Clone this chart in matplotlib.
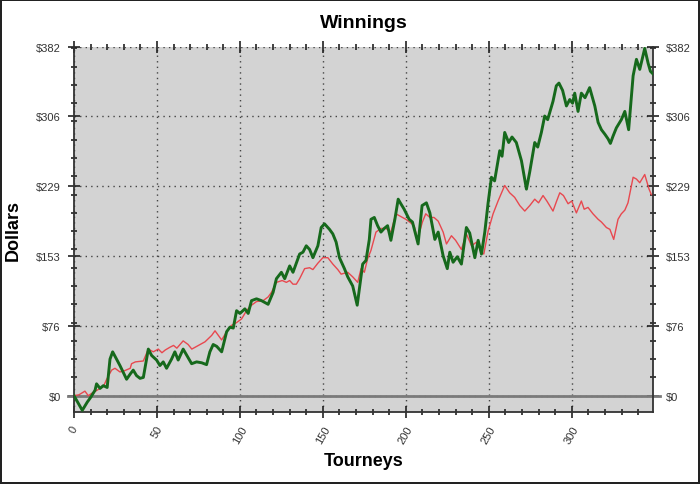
import numpy as np
import matplotlib
matplotlib.use("Agg")
import matplotlib.pyplot as plt

plt.rcParams['font.family'] = ['Liberation Sans', 'DejaVu Sans']

# tourney number / dollars
green_t = [0, 5, 8, 10, 12.7, 13.6, 15.7, 17.7, 20, 21.7, 23.3, 27.7, 31.7, 34, 35.7, 37.7, 39.8, 41.8,
           44.8, 46.8, 49.8, 51.8, 53.8, 55.8, 58.8, 60.8, 62.8, 65.8, 68, 70.9, 73.9, 77, 79.9, 81.9,
           83.9, 86, 89, 92, 94, 96, 98, 100, 103, 105, 107, 110, 113, 117, 120, 122, 125, 127, 130,
           132, 136, 138, 140, 142, 144, 147, 149, 151, 154, 156, 158, 160, 163, 165, 168, 170.7, 172,
           174, 176, 178, 179, 181, 183, 185, 187, 189, 191, 193.4, 195.4, 197, 199, 202, 204, 207.4,
           209.8, 212.4, 214.5, 217.5, 219.5, 222.5, 225, 226.5, 228.5, 231, 233.5, 236.5, 238.5,
           241.6, 243.6, 245.6, 247.6, 249.6, 251.6, 253.5, 256.6, 258, 259.6, 262, 264, 266.6, 269.7,
           272.7, 274.7, 277.7, 279.5, 281.7, 283.7, 285.5, 288.7, 290.7, 292.3, 294.5, 296.8, 298.8,
           300.5, 301.8, 303.8, 305.8, 308, 310.8, 313.9, 315.9, 317.9, 320, 321.9, 323.3, 324.9,
           326.9, 329.9, 332, 334.3, 337, 339, 341, 344, 346, 347.4, 349]
green_v = [0, -16, -7, -2, 6, 13, 8, 11, 9, 40, 48, 33, 18, 24, 28, 22, 19, 20,
           51, 44, 39, 33, 37, 30, 40, 48, 39, 51, 44, 35, 37, 36, 34, 48,
           56, 54, 48, 70, 75, 74, 93, 90, 95, 90, 104, 106, 104, 100, 113, 128, 135, 128, 142,
           135, 155, 157, 164, 160, 151, 164, 184, 188, 182, 177, 168, 151, 139, 130, 120, 99, 117,
           144, 148, 171, 193, 195, 186, 179, 183, 186, 170, 193, 215, 210, 204, 193, 190, 166,
           208, 211, 200, 171, 179, 153, 139, 157, 146, 152, 144, 184, 178,
           151, 170, 155, 179, 211, 239, 235, 268, 262, 288, 277, 283, 277, 257,
           226, 245, 277, 272, 288, 306, 302, 322, 339, 342, 334, 317, 324,
           320, 331, 311, 331, 326, 337, 317, 299, 291, 286, 281, 276, 284,
           293, 302, 311, 291, 350, 368, 357, 380, 364, 355, 352]

red_t = [0, 3, 6.6, 8.6, 11, 13, 15.7, 17.7, 19.7, 22.7, 24.7, 27.7, 30, 33.9, 34.7, 37, 41.8, 44.8,
         47.8, 50.8, 53, 55, 57.8, 60, 62, 65.8, 68.8, 71, 75, 79, 83, 85, 87, 89, 92, 95, 98, 101,
         104, 107, 110, 114, 117, 119, 122, 125.5, 128, 130, 132, 134, 136, 139, 142, 144, 147, 150,
         153, 156, 159, 161, 163, 165, 168, 171, 173, 175, 177, 179, 182, 185, 188, 191, 194, 197,
         200, 203, 205, 207, 210, 212, 214.5, 217, 219.5, 222.5, 224.5, 227.5, 230, 233.5, 236.5,
         239.6, 242.6, 245.6, 247, 249.6, 252.6, 255.6, 259.6, 262.6, 265.6, 268.7, 271.7, 274.7,
         277.7, 280, 282.7, 285, 288.7, 290.7, 292.8, 295, 297.8, 300, 302.8, 305.8, 307.5, 309.8,
         312.8, 315.9, 317.9, 320.9, 323, 325.3, 327.9, 329.9, 332, 333.9, 337, 339, 341, 344,
         346.6, 348]
red_v = [0, 1, 5, 0, 3, 5, 8, 10, 18, 28, 30, 26, 27, 30, 35, 37, 38, 51,
         48, 51, 47, 50, 53, 55, 52, 60, 56, 51, 55, 59, 66, 71, 66, 61, 70, 77, 80, 84,
         93, 99, 103, 104, 108, 113, 124, 126, 124, 126, 122, 122, 128, 139, 140, 138, 145, 151,
         151, 144, 138, 133, 134, 135, 130, 124, 139, 135, 150, 159, 179, 183, 183, 179, 199, 196,
         193, 189, 186, 171, 190, 199, 195, 195, 191, 179, 166, 175, 170, 160, 177,
         164, 168, 157, 155, 180, 199, 213, 230, 222, 217, 208, 202, 208,
         215, 211, 219, 213, 202, 212, 222, 219, 210, 213, 200, 213, 204, 206,
         199, 193, 190, 184, 182, 171, 193, 199, 203, 211, 239, 237, 233, 242,
         226, 220]

ytick_vals = [0, 76.4, 152.8, 229.2, 305.6, 382]
ytick_labels = ['$0', '$76', '$153', '$229', '$306', '$382']
xtick_vals = [0, 50, 100, 150, 200, 250, 300]

fig = plt.figure(figsize=(7, 4.85), dpi=100, linewidth=1.5, edgecolor='#222222')
ax = fig.add_axes([0.1057, 0.1485, 0.8272, 0.7535])
ax.set_facecolor('#d3d3d3')

ax.axhline(0, xmin=-0.011, xmax=1.012, color='#7a7a7a', lw=2, clip_on=False, zorder=2)
ax.plot(red_t, red_v, color='#e8484f', lw=1.0, zorder=3)
ax.plot(green_t, green_v, color='#16691c', lw=2.1, zorder=4)

ax.set_xlim(0, 349)
ax.set_ylim(-17.8, 382)

ax.set_yticks(ytick_vals)
ax.set_yticklabels(ytick_labels)
ax.set_yticks(np.arange(20, 381, 20), minor=True)
ax.set_xticks(xtick_vals)
ax.set_xticklabels([str(v) for v in xtick_vals], rotation=60, ha='center', va='top')
ax.set_xticks(np.arange(10, 341, 10), minor=True)

ax.tick_params(axis='y', which='both', left=True, right=True, labelleft=True, labelright=True,
               direction='inout', colors='#222222', labelcolor='#333333', labelsize=8)
ax.tick_params(axis='y', which='major', length=9, width=1.2, pad=5)
ax.tick_params(axis='y', which='minor', length=5, width=1.2)
ax.tick_params(axis='x', which='both', bottom=True, top=True, direction='inout',
               colors='#222222', labelcolor='#333333', labelsize=8)
ax.tick_params(axis='x', which='major', length=9, width=1.2, pad=4)
ax.tick_params(axis='x', which='minor', length=5, width=1.2)

ax.grid(True, which='major', color='#444444', linestyle=(0, (1, 3)), lw=1)
for side in ['left', 'bottom', 'right']:
    ax.spines[side].set_color('#333333')
    ax.spines[side].set_linewidth(1.3)
ax.spines['top'].set_visible(False)

ax.set_title("Winnings", fontsize=14, fontweight='bold', pad=14)
ax.set_xlabel("Tourneys", fontsize=13, fontweight='bold', labelpad=5)
ax.set_ylabel("Dollars", fontsize=13, fontweight='bold')
ax.yaxis.set_label_coords(-0.09, 0.5)

fig.savefig("out.png", dpi=100, edgecolor=fig.get_edgecolor())
